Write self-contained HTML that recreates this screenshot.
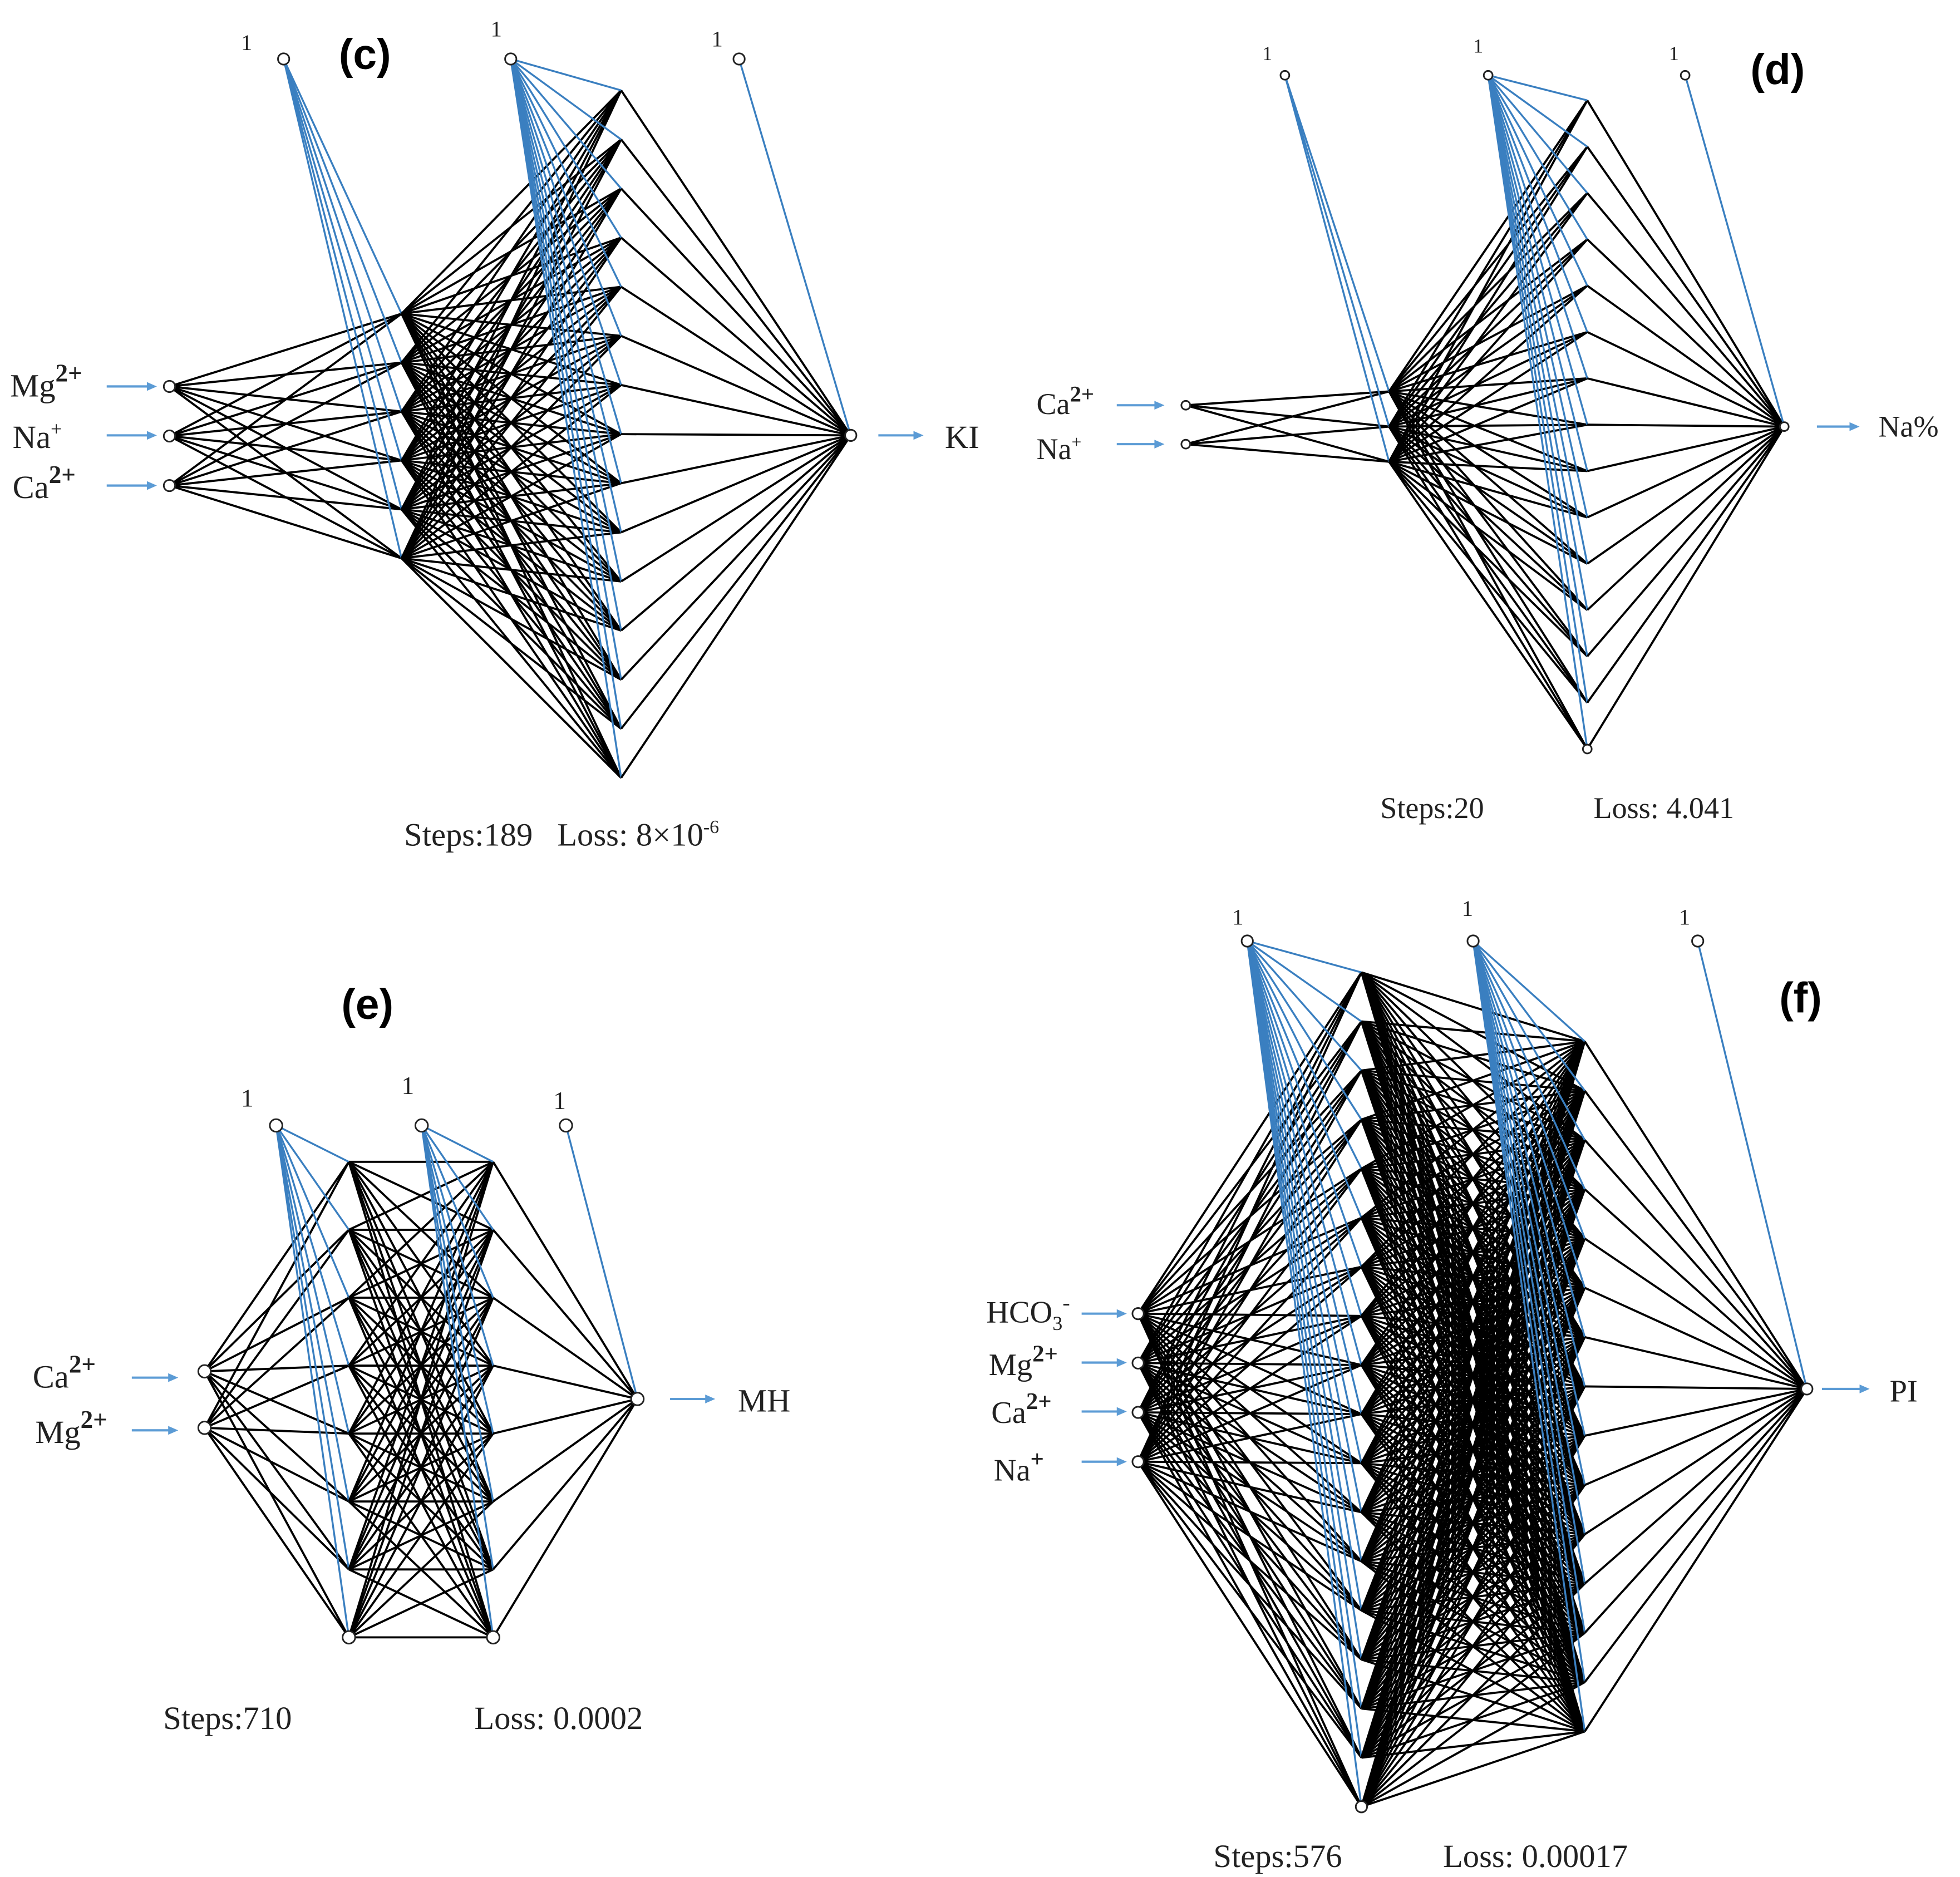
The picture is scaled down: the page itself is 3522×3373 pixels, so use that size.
<!DOCTYPE html>
<html><head><meta charset="utf-8"><style>
html,body{margin:0;padding:0;background:#fff}
svg{display:block}
text{font-family:"Liberation Serif",serif;fill:#222}
.b{font-family:"Liberation Sans",sans-serif;font-weight:bold;fill:#000}
</style></head><body>
<svg id="s" width="3522" height="3373" viewBox="0 0 1562 1496" xmlns="http://www.w3.org/2000/svg">
<g id="g"></g>
<text class="b" x="270" y="55" font-size="34">(c)</text>
<text class="b" x="1395" y="67" font-size="34">(d)</text>
<text class="b" x="272" y="812" font-size="34">(e)</text>
<text class="b" x="1418" y="807" font-size="34">(f)</text>

<text x="192" y="40" font-size="18">1</text>
<text x="391" y="29" font-size="18">1</text>
<text x="567" y="37" font-size="18">1</text>
<text x="8" y="316" font-size="26">Mg<tspan font-weight="bold" font-size="20" dy="-12">2+</tspan></text>
<text x="10" y="357" font-size="26">Na<tspan font-size="16" dy="-10">+</tspan></text>
<text x="10" y="397" font-size="26">Ca<tspan font-weight="bold" font-size="20" dy="-12">2+</tspan></text>
<text x="753" y="357" font-size="26">KI</text>
<text x="322" y="674" font-size="26">Steps:189 &#160; Loss: 8×10<tspan font-size="15" dy="-10">-6</tspan></text>

<text x="1006" y="48" font-size="16">1</text>
<text x="1174" y="42" font-size="16">1</text>
<text x="1330" y="48" font-size="16">1</text>
<text x="826" y="330" font-size="24">Ca<tspan font-weight="bold" font-size="18" dy="-10">2+</tspan></text>
<text x="826" y="366" font-size="24">Na<tspan font-size="14" dy="-9">+</tspan></text>
<text x="1497" y="348" font-size="24">Na%</text>
<text x="1100" y="652" font-size="24">Steps:20</text>
<text x="1270" y="652" font-size="24">Loss: 4.041</text>

<text x="192" y="882" font-size="20">1</text>
<text x="320" y="872" font-size="20">1</text>
<text x="441" y="884" font-size="20">1</text>
<text x="26" y="1106" font-size="26">Ca<tspan font-weight="bold" font-size="20" dy="-12">2+</tspan></text>
<text x="28" y="1150" font-size="26">Mg<tspan font-weight="bold" font-size="20" dy="-12">2+</tspan></text>
<text x="588" y="1125" font-size="26">MH</text>
<text x="130" y="1378" font-size="26">Steps:710</text>
<text x="378" y="1378" font-size="26">Loss: 0.0002</text>

<text x="982" y="737" font-size="18">1</text>
<text x="1165" y="730" font-size="18">1</text>
<text x="1338" y="737" font-size="18">1</text>
<text x="786" y="1054" font-size="25">HCO<tspan font-size="16" dy="6">3</tspan><tspan font-size="18" dy="-16">-</tspan></text>
<text x="788" y="1096" font-size="25">Mg<tspan font-weight="bold" font-size="19" dy="-11">2+</tspan></text>
<text x="790" y="1134" font-size="25">Ca<tspan font-weight="bold" font-size="19" dy="-11">2+</tspan></text>
<text x="792" y="1180" font-size="25">Na<tspan font-weight="bold" font-size="19" dy="-11">+</tspan></text>
<text x="1506" y="1117" font-size="25">PI</text>
<text x="967" y="1488" font-size="26">Steps:576</text>
<text x="1150" y="1488" font-size="26">Loss: 0.00017</text>
</svg>
<script>
var g=document.getElementById('g');
var lines=[],nodes=[];
function L(a,b,c,d,col,w){lines.push('<line x1="'+a+'" y1="'+b+'" x2="'+c+'" y2="'+d+'" stroke="'+col+'" stroke-width="'+w+'"/>');}
function C(x,y,r){nodes.push('<circle cx="'+x+'" cy="'+y+'" r="'+r+'" fill="#fff" stroke="#222" stroke-width="1.3"/>');}
function A(x1,x2,y){lines.push('<line x1="'+x1+'" y1="'+y+'" x2="'+(x2-6)+'" y2="'+y+'" stroke="#5b9bd5" stroke-width="1.8"/><polygon points="'+x2+','+y+' '+(x2-8)+','+(y-3.5)+' '+(x2-8)+','+(y+3.5)+'" fill="#5b9bd5"/>');}
function col(x,y0,y1,n){var a=[];for(var i=0;i<n;i++)a.push([x,n==1?y0:y0+(y1-y0)*i/(n-1)]);return a;}
function net(layers,biases,r,showBottom){
 var blue='#3a7fc0';
 for(var k=0;k<layers.length-1;k++){
  layers[k].forEach(function(p){layers[k+1].forEach(function(q){L(p[0],p[1],q[0],q[1],'#000',1.7);});});
  var b=biases[k];layers[k+1].forEach(function(q){L(b[0],b[1],q[0],q[1],blue,1.5);});
 }
 var n=layers.length;
 layers[0].forEach(function(p){C(p[0],p[1],r);});
 layers[n-1].forEach(function(p){C(p[0],p[1],r);});
 (showBottom||[]).forEach(function(k){var l=layers[k];var p=l[l.length-1];C(p[0],p[1],r);});
 biases.forEach(function(b){C(b[0],b[1],r);});
}
// (c)
net([col(135,308,387,3),col(320,250,445,6),col(495,72,620,15),col(678,347,347,1)],[[226,47],[407,47],[589,47]],4.5);
A(85,125,308);A(85,125,347);A(85,125,387);A(700,736,347);
// (d)
net([col(945,323,354,2),col(1107,312,368,3),col(1265,80,597,15),col(1422,340,340,1)],[[1024,60],[1186,60],[1343,60]],3.5,[2]);
A(890,928,323);A(890,928,354);A(1448,1482,340);
// (e)
net([col(163,1093,1138,2),col(278,926,1305,8),col(393,926,1305,8),col(508,1115,1115,1)],[[220,897],[336,897],[451,897]],5,[1,2]);
A(105,142,1098);A(105,142,1140);A(534,570,1115);
// (f)
net([col(907,1047,1165,4),col(1085,775,1440,18),col(1263,830,1380,15),col(1440,1107,1107,1)],[[994,750],[1174,750],[1353,750]],4.5,[1]);
A(862,898,1047);A(862,898,1086);A(862,898,1125);A(862,898,1165);A(1452,1490,1107);
g.innerHTML=lines.join('')+nodes.join('');
</script>
</body></html>
